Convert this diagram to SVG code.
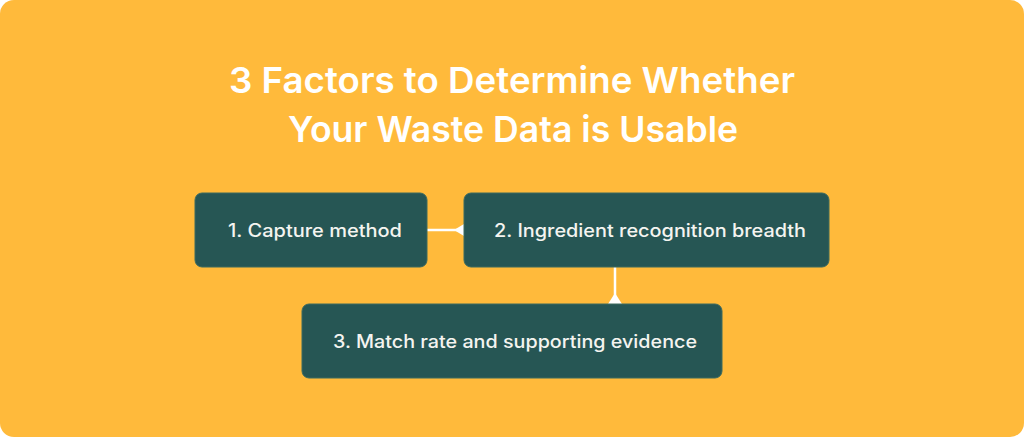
<svg xmlns="http://www.w3.org/2000/svg" width="1024" height="437" viewBox="0 0 1024 437">
<defs>
<style>
.title{font-family:Inter,"Liberation Sans",sans-serif;font-weight:600;font-size:36px;fill:#ffffff;text-anchor:middle}
.box{fill:#265654;stroke:#3d6a5e;stroke-width:1}
.lbl{font-family:Inter,"Liberation Sans",sans-serif;font-weight:500;font-size:18px;fill:#f4f4f0;text-anchor:middle;dominant-baseline:central}
.conn{stroke:#ffffff;stroke-width:2.5;fill:none}
.head{fill:#ffffff}
</style>
</defs>
<rect x="0" y="0" width="1024" height="437" rx="14" fill="#ffba3b"/>
<g id="title">
<text class="title" x="512" y="93" textLength="566" lengthAdjust="spacingAndGlyphs">3 Factors to Determine Whether</text>
<text class="title" x="513" y="142" textLength="450" lengthAdjust="spacingAndGlyphs">Your Waste Data is Usable</text>
</g>
<g id="connectors">
<line class="conn" x1="427" y1="230" x2="458" y2="230"/>
<polygon class="head" points="464,224 464,236 454,230"/>
<line class="conn" x1="615" y1="267" x2="615" y2="298"/>
<polygon class="head" points="608,304 622,304 615,293"/>
</g>
<g id="node1">
<rect class="box" x="195" y="193" width="232" height="74" rx="7"/>
<text class="lbl" x="315" y="230" textLength="174" lengthAdjust="spacingAndGlyphs">1. Capture method</text>
</g>
<g id="node2">
<rect class="box" x="464" y="193" width="365" height="74" rx="7"/>
<text class="lbl" x="650" y="230" textLength="312" lengthAdjust="spacingAndGlyphs">2. Ingredient recognition breadth</text>
</g>
<g id="node3">
<rect class="box" x="302" y="304" width="420" height="74" rx="7"/>
<text class="lbl" x="515" y="341" textLength="364" lengthAdjust="spacingAndGlyphs">3. Match rate and supporting evidence</text>
</g>
</svg>
